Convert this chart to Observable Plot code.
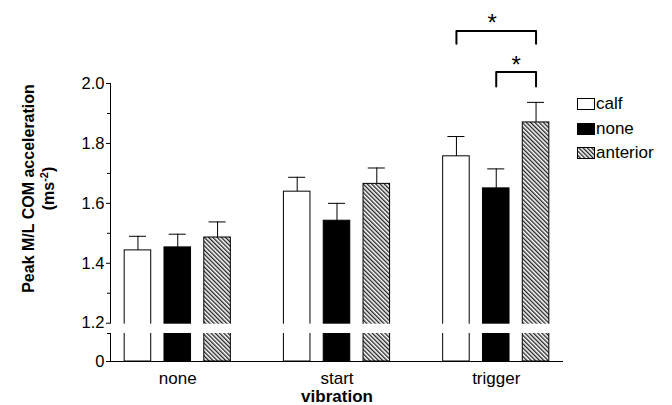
<!DOCTYPE html>
<html><head><meta charset="utf-8">
<script src="https://cdn.jsdelivr.net/npm/d3@7"></script>
<script src="https://cdn.jsdelivr.net/npm/@observablehq/plot@0.6"></script>
<style>
body{margin:0;background:#fff;}
#wrap{position:relative;width:672px;height:405px;font-family:"Liberation Sans",Arial,sans-serif;}
#legend{position:absolute;left:577px;top:91.6px;}
.row{display:flex;align-items:center;height:24.75px;font-size:17px;color:#000;}
.row svg{margin-right:1px;display:block;}
</style></head><body><div id="wrap"><div id="legend"></div></div>
<script>
// ---- data ----
const groups = ["none", "start", "trigger"];
const series = ["calf", "none", "anterior"];
const calfMean = [1.443, 1.639, 1.757];
const calfErr = [0.047, 0.048, 0.066];
const noneMean = [1.453, 1.542, 1.650];
const noneErr = [0.044, 0.058, 0.065];
const anteriorMean = [1.486, 1.665, 1.870];
const anteriorErr = [0.052, 0.053, 0.067];
const yTicks = [0, 1.2, 1.4, 1.6, 1.8, 2.0];
const yMinorTicks = [1.3, 1.5, 1.7, 1.9];
const axisBreak = [0.1, 1.2];
const brackets = [
  {group: "trigger", from: "calf", to: "anterior", top: 2.175, foot: 2.133, star: 2.221},
  {group: "trigger", from: "none", to: "anterior", top: 2.038, foot: 1.990, star: 2.080}
];
const xTitle = "vibration";
const yTitle = "Peak M/L COM acceleration\n(ms-2)";

// ---- derived tables ----
const means = {calf: calfMean, none: noneMean, anterior: anteriorMean};
const errs = {calf: calfErr, none: noneErr, anterior: anteriorErr};
const fills = {calf: "white", none: "black", anterior: "url(#hatch)"};
const key = (g, s) => `${g}|${s}`;
const rows = groups.flatMap((g, i) => series.map(s => ({group: g, series: s, key: key(g, s), mean: means[s][i], err: errs[s][i], hi: means[s][i] + errs[s][i]})));
const xDomain = groups.flatMap((g, i) => [...(i ? [`gap${i}`] : []), ...series.map(s => key(g, s))]);
const bracketPts = brackets.flatMap((b, i) => [
  {id: i, x: key(b.group, b.from), y: b.foot},
  {id: i, x: key(b.group, b.from), y: b.top},
  {id: i, x: key(b.group, b.to), y: b.top},
  {id: i, x: key(b.group, b.to), y: b.foot}
]);

const marks = [];
series.forEach(s => {
  marks.push(Plot.barY(rows.filter(d => d.series === s), {x: "key", y1: 0, y2: "mean", fill: fills[s], stroke: "black", strokeWidth: 1}));
});
marks.push(
  Plot.ruleX(rows, {x: "key", y1: "mean", y2: "hi", stroke: "black", strokeWidth: 1}),
  Plot.tickY(rows, {x: "key", y: "hi", stroke: "black", strokeWidth: 1, insetLeft: 4.75, insetRight: 4.75}),
  Plot.ruleY([0], {stroke: "black", strokeWidth: 1}),
  Plot.frame({anchor: "left", stroke: "black", strokeWidth: 1}),
  Plot.rect([{y1: axisBreak[0], y2: axisBreak[1]}], {y1: "y1", y2: "y2", fill: "white", insetTop: 1, insetLeft: -4}),
  Plot.axisY(yTicks, {tickSize: 4, tickPadding: 2, fontSize: 16.5, tickFormat: d => d === 0 ? "0" : d.toFixed(1), label: null}),
  Plot.axisY([...yMinorTicks, axisBreak[0]], {tickSize: 3, tickFormat: () => "", label: null}),
  Plot.text(groups, {x: g => key(g, "none"), frameAnchor: "bottom", lineAnchor: "top", dy: 10, text: d => d, fontSize: 17}),
  Plot.text([xTitle], {frameAnchor: "bottom", lineAnchor: "middle", dy: 35.5, text: d => d, fontSize: 17, fontWeight: "bold"}),
  Plot.text([yTitle], {frameAnchor: "left", textAnchor: "middle", rotate: -90, lineAnchor: "middle", lineHeight: 1.25, dx: -72.5, dy: -34, text: d => d, fontSize: 16, fontWeight: "bold"}),
  Plot.line(bracketPts, {x: "x", y: "y", z: "id", stroke: "black", strokeWidth: 2}),
  Plot.text(brackets.filter((b, i) => i === 0), {x: b => key(b.group, "none"), y: "star", text: () => "*", fontSize: 24, lineAnchor: "middle", dy: 6, dx: -4}),
  Plot.text(brackets.filter((b, i) => i === 1), {x: b => key(b.group, "anterior"), y: "star", text: () => "*", fontSize: 24, lineAnchor: "middle", dy: 6, dx: -20})
);

const svg = Plot.plot({
  width: 672, height: 405,
  marginLeft: 110, marginRight: 109, marginTop: 83, marginBottom: 44,
  style: {fontFamily: "'Liberation Sans', Arial, sans-serif", background: "white", color: "black", overflow: "visible"},
  x: {type: "band", domain: xDomain, paddingInner: 0.333, paddingOuter: 0.356, round: false, axis: null},
  y: {type: "linear", domain: [0, axisBreak[0], axisBreak[1], 2.0], range: [361, 333, 322.7, 83], axis: null},
  marks
});

// hatch pattern
function addHatch(sel, id) {
  const p = sel.append("pattern").attr("id", id).attr("patternUnits", "userSpaceOnUse")
    .attr("width", 3).attr("height", 3).attr("patternTransform", "rotate(-45)");
  p.append("rect").attr("width", 3).attr("height", 3).attr("fill", "white");
  p.append("line").attr("x1", 0.7).attr("y1", 0).attr("x2", 0.7).attr("y2", 3).attr("stroke", "#111").attr("stroke-width", 1.25);
}
addHatch(d3.select(svg).insert("defs", ":first-child"), "hatch");

// superscript in y title
d3.select(svg).selectAll("tspan").each(function() {
  if (this.textContent === "(ms-2)") {
    const t = d3.select(this);
    t.text("(ms");
    t.append("tspan").attr("dy", -6).attr("font-size", 11).text("-2");
    t.append("tspan").attr("dy", 6).attr("font-size", 16).text(")");
  }
});

document.getElementById("wrap").prepend(svg);

// legend
const legend = d3.select("#legend");
series.forEach(s => {
  const row = legend.append("div").attr("class", "row");
  const sw = row.append("svg").attr("width", 18).attr("height", 12);
  if (s === "anterior") addHatch(sw.append("defs"), "hatchL");
  sw.append("rect").attr("x", 0.5).attr("y", 0.5).attr("width", 17).attr("height", 11)
    .attr("fill", s === "anterior" ? "url(#hatchL)" : fills[s]).attr("stroke", "black").attr("stroke-width", 1);
  row.append("span").text(s);
});
</script>
</body></html>
